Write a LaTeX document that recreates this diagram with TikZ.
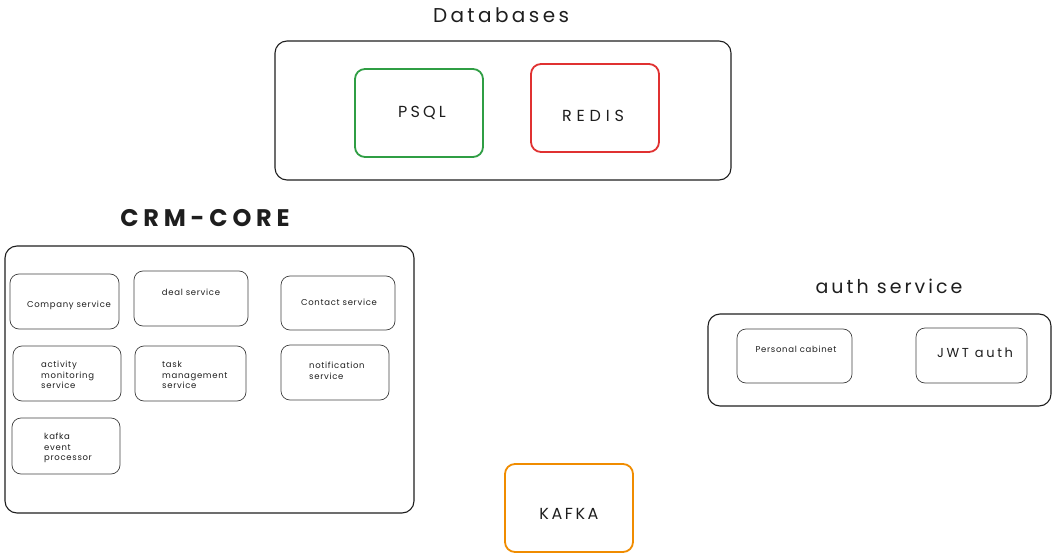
\documentclass[tikz,border=0pt]{standalone}
\usepackage{fontspec}
\setmainfont{Poppins}
\definecolor{ink}{HTML}{1E1E1E}
\definecolor{pgreen}{HTML}{2F9E44}
\definecolor{pred}{HTML}{E03131}
\definecolor{porange}{HTML}{F08C00}
\newcommand{\fsz}[2]{\fontsize{#1}{#1}\selectfont\addfontfeature{LetterSpace=#2}}
\begin{document}
\begin{tikzpicture}[x=1pt,y=-1pt,
  container/.style={draw=ink, line width=1.1pt, rounded corners=12pt, inner sep=0pt},
  svc/.style={draw=ink!85, line width=0.7pt, rounded corners=9pt, inner sep=0pt},
  db/.style={line width=1.8pt, rounded corners=10pt, inner sep=0pt},
  lbl/.style={text=ink, inner sep=0pt},
  small/.style={text=ink, font=\fontsize{8.5}{10.5}\selectfont\addfontfeature{LetterSpace=8}, align=left, inner sep=0pt}
]
\useasboundingbox (0,0) rectangle (1056,556);
\newcommand{\bx}[6]{\node[#1, minimum width=#4pt, minimum height=#5pt] (#6) at (#2,#3) {};}
% Databases
\node[lbl, font=\fsz{20}{17}] (dbtitle) at (501,15) {Databases};
\bx{container}{503}{110.5}{456}{139}{dbc}
\bx{db,draw=pgreen}{419}{113}{128}{88}{psql}
\bx{db,draw=pred}{595}{108}{128}{88}{redis}
\node[lbl, font=\fsz{16}{20}] (psqlt) at (422,113) {PSQL};
\node[lbl, font=\fsz{16}{30}] (redist) at (593,116) {REDIS};
% CRM-CORE
\node[lbl, font=\fsz{24}{20}\bfseries] (crmtitle) at (205,218) {CRM-CORE};
\bx{container}{209.5}{379.5}{409}{267}{crm}
\bx{svc}{64.5}{301.5}{109}{55}{company}
\bx{svc}{191}{298.5}{114}{55}{deal}
\bx{svc}{338}{303}{114}{54}{contact}
\bx{svc}{67}{373.5}{108}{55}{activity}
\bx{svc}{190.5}{373.5}{111}{55}{task}
\bx{svc}{335}{372.5}{108}{55}{notif}
\bx{svc}{66}{446}{108}{56}{kep}
\node[small] (companyt) at (69,305) {Company service};
\node[small] (dealt) at (191,292) {deal service};
\node[small] (contactt) at (339,302) {Contact service};
\node[small, anchor=west] (activityt) at (41,375) {activity\\monitoring\\service};
\node[small, anchor=west] (taskt) at (162,375) {task\\management\\service};
\node[small, anchor=west] (notift) at (309,371) {notification\\service};
\node[small, anchor=west] (kept) at (44,448) {kafka\\event\\processor};
% auth service
\node[lbl, font=\fsz{19}{16}] (authtitle) at (889,286) {auth service};
\bx{container}{879.5}{360}{343}{92}{auth}
\bx{svc}{794.5}{356}{115}{54}{cabinet}
\bx{svc}{971.5}{355.5}{111}{55}{jwt}
\node[small] (cabinett) at (796,349) {Personal cabinet};
\node[lbl, font=\fsz{13}{20}] (jwtt) at (975,353) {JWT auth};
% KAFKA
\bx{db,draw=porange}{569}{508}{128}{88}{kafka}
\node[lbl, font=\fsz{16}{16}] (kafkat) at (569,514) {KAFKA};
\end{tikzpicture}
\end{document}
